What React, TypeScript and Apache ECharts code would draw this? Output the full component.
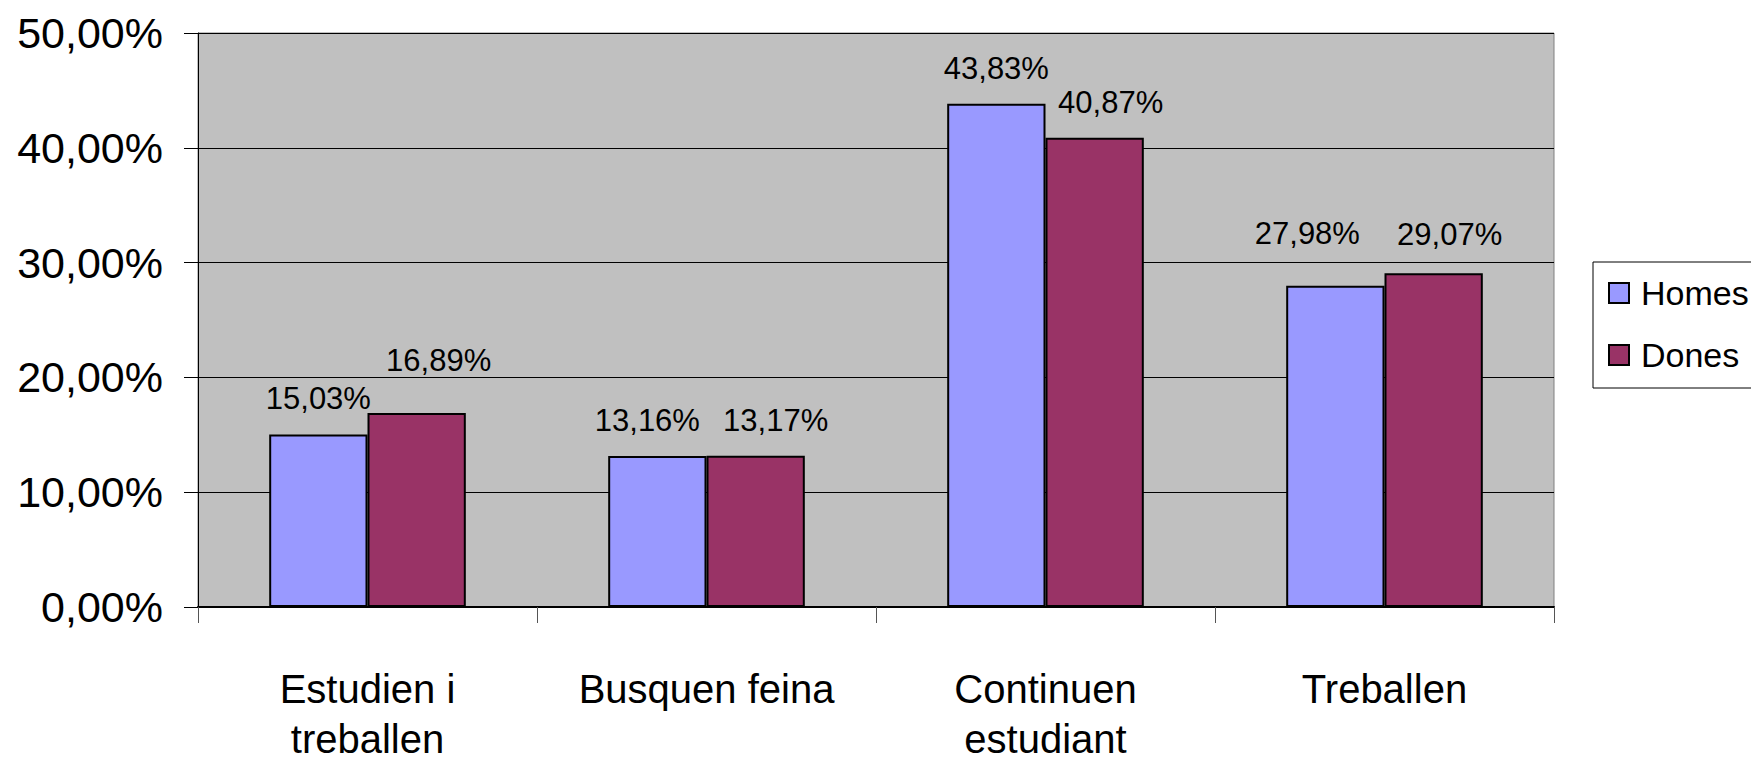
import React, { useEffect, useRef } from "react";
import * as echarts from "echarts";

const categories = ["Estudien i\ntreballen", "Busquen feina", "Continuen\nestudiant", "Treballen"];
const homes = [15.03, 13.16, 43.83, 27.98];
const dones = [16.89, 13.17, 40.87, 29.07];
const seriesNames = ["Homes", "Dones"];
const yTicks = [0, 10, 20, 30, 40, 50];

const FONT = "'Liberation Sans', Arial, sans-serif";
const fmt = (v: number) => v.toFixed(2).replace(".", ",") + "%";

// label nudges (style only)
const homesOffsets = [[0, 0], [-10, 0], [0, 0], [-28, -17]];
const donesOffsets = [[22, -17], [20, 0], [16, 0], [16, -3]];

export default function App() {
  const ref = useRef<HTMLDivElement>(null);
  useEffect(() => {
    if (!ref.current) return;
    const chart = echarts.init(ref.current, undefined, { renderer: "svg" });
    const mk = (name: string, vals: number[], color: string, offs: number[][]) => ({
      name,
      type: "bar",
      data: vals.map((v, i) => ({
        value: v,
        label: { offset: offs[i] },
      })),
      barGap: "0%",
      barCategoryGap: "42%",
      itemStyle: { color, borderColor: "#000", borderWidth: 2 },
      label: {
        show: true,
        position: "top",
        distance: 20,
        formatter: (p: any) => fmt(p.value),
        color: "#000",
        fontFamily: FONT,
        fontSize: 31,
      },
    });
    chart.setOption({
      animation: false,
      backgroundColor: "#fff",
      grid: {
        left: 198,
        right: 197,
        top: 33,
        bottom: 158,
        show: true,
        containLabel: false,
        outerBoundsMode: "none",
        backgroundColor: "#C0C0C0",
        borderColor: "#808080",
        borderWidth: 1,
      },
      legend: {
        orient: "vertical",
        left: 1593,
        top: 262,
        data: seriesNames,
        icon: "rect",
        itemWidth: 20,
        itemHeight: 20,
        itemGap: 28,
        padding: [14, 12, 16, 15],
        borderColor: "#000",
        borderWidth: 1,
        backgroundColor: "#fff",
        itemStyle: { borderColor: "#000", borderWidth: 2 },
        textStyle: { fontFamily: FONT, fontSize: 34, color: "#000", padding: [0, 0, 0, 7] },
      },
      xAxis: {
        type: "category",
        data: categories,
        axisLine: { show: true, lineStyle: { color: "#000", width: 2 } },
        axisTick: { show: true, length: 16, inside: false, lineStyle: { color: "#555", width: 1 } },
        axisLabel: {
          fontFamily: FONT,
          fontSize: 40,
          color: "#000",
          lineHeight: 50,
          margin: 57,
          interval: 0,
        },
      },
      yAxis: {
        type: "value",
        min: yTicks[0],
        max: yTicks[yTicks.length - 1],
        interval: 10,
        axisLine: { show: true, lineStyle: { color: "#000", width: 1 } },
        axisTick: { show: true, length: 14, lineStyle: { color: "#000", width: 1 } },
        splitLine: { show: true, lineStyle: { color: "#000", width: 1 } },
        axisLabel: {
          fontFamily: FONT,
          fontSize: 43,
          color: "#000",
          margin: 35,
          formatter: (v: number) => fmt(v),
        },
      },
      series: [
        mk(seriesNames[0], homes, "#9999FF", homesOffsets),
        mk(seriesNames[1], dones, "#993366", donesOffsets),
      ],
    });
    return () => chart.dispose();
  }, []);
  return (
    <div
      ref={ref}
      style={{ position: "fixed", left: 0, top: 0, width: 1751, height: 765, background: "#fff" }}
    />
  );
}
